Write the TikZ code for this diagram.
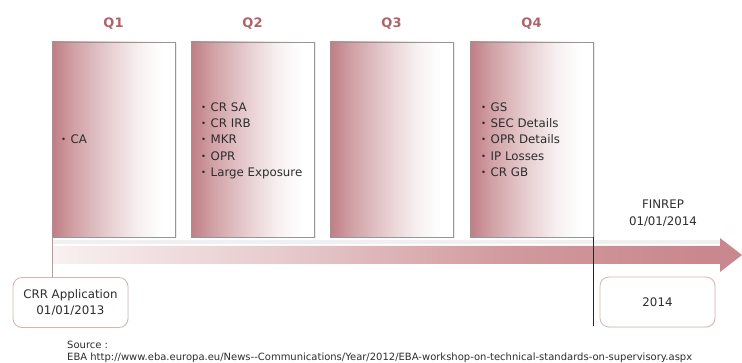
\documentclass[tikz,border=0pt]{standalone}
\usepackage{fontspec}
\setmainfont{DejaVu Sans}
\usetikzlibrary{shadows}
\definecolor{qrose}{RGB}{192,125,132}
\definecolor{qlabel}{RGB}{176,98,104}
\definecolor{arrowrose}{RGB}{201,136,141}
\definecolor{boxedge}{RGB}{150,150,150}
\definecolor{calloutedge}{RGB}{215,180,178}
\definecolor{txt}{RGB}{45,45,45}
\pgfdeclarehorizontalshading{qboxshade}{100bp}{color(0bp)=(qrose); color(25bp)=(qrose); color(34bp)=(qrose!72!white); color(48bp)=(qrose!38!white); color(60bp)=(qrose!12!white); color(70bp)=(white); color(100bp)=(white)}
\pgfdeclarehorizontalshading{arrowshade}{100bp}{color(0bp)=(arrowrose!12!white); color(25bp)=(arrowrose!12!white); color(42bp)=(arrowrose!45!white); color(58bp)=(arrowrose!85!white); color(72bp)=(arrowrose); color(100bp)=(arrowrose)}
\newcommand\bul{{\fontsize{8.5}{8}\selectfont\raisebox{0.2ex}{•}}\hspace{4.5pt}}
\tikzset{
  qbox/.style={rectangle, draw=boxedge, line width=0.6pt, shade, shading=qboxshade,
    minimum width=123pt, minimum height=195pt, inner sep=0pt, outer sep=0pt, anchor=north west,
    drop shadow={shadow xshift=1.5pt, shadow yshift=-1.5pt, opacity=0.15}},
  qlab/.style={font=\fontsize{13}{15}\selectfont\bfseries, text=qlabel},
  items/.style={font=\fontsize{11.8}{16.2}\selectfont, text=txt, align=left, anchor=north west, inner sep=0pt},
  callout/.style={rectangle, rounded corners=9pt, draw=calloutedge, line width=0.8pt, fill=white,
    minimum width=115pt, minimum height=50pt, inner sep=0pt, align=center,
    font=\fontsize{11.8}{16}\selectfont, text=txt,
    drop shadow={shadow xshift=1pt, shadow yshift=-1pt, opacity=0.08}},
  plain/.style={font=\fontsize{11.8}{17}\selectfont, text=txt, align=center, inner sep=0pt},
  leftline/.style={draw=calloutedge!85!black, line width=0.7pt},
  markline/.style={draw=black!85, line width=1pt}
}
\begin{document}
\begin{tikzpicture}[x=1pt, y=-1pt]
\useasboundingbox (0,0) rectangle (742,363);
% quarter boxes
\node[qbox] (q1) at (52,42) {};
\node[qbox] (q2) at (191,42) {};
\node[qbox] (q3) at (330,42) {};
\node[qbox] (q4) at (470,42) {};
% quarter labels
\node[qlab] (l1) at ([yshift=18pt]q1.north) {Q1};
\node[qlab] (l2) at ([yshift=18pt]q2.north) {Q2};
\node[qlab] (l3) at ([yshift=18pt]q3.north) {Q3};
\node[qlab] (l4) at ([yshift=18pt]q4.north) {Q4};
% items
\node[items] (t1) at (61,134.5) {\bul CA};
\node[items] (t2) at (201,102.5) {\bul CR SA\\\bul CR IRB\\\bul MKR\\\bul OPR\\\bul Large Exposure};
\node[items] (t4) at (481,102.5) {\bul GS\\\bul SEC Details\\\bul OPR Details\\\bul IP Losses\\\bul CR GB};
% reflection band
\fill[black!6] (52,240) rectangle (720,244);
% timeline arrow
\path[shade, shading=arrowshade] (52,246) -- (720,246) -- (720,238) -- (742,255) -- (720,272) -- (720,264) -- (52,264) -- cycle;
% callouts
\node[callout] (crr) at (70.5,302.5) {CRR Application\\01/01/2013};
\node[callout] (y14) at (657.5,302) {2014};
\node[plain] (fin) at (663,213.5) {FINREP\\01/01/2014};
% connectors
\draw[leftline] (q1.south west) -- (q1.south west |- crr.north);
\coordinate (mark) at (593,326);
\draw[markline] (q4.south east) -- (q4.south east |- mark);
% source
\node[anchor=north west, inner sep=0pt, align=left, font=\fontsize{10}{12}\selectfont, text=txt] (src) at (67,341)
  {Source :\\EBA http://www.eba.europa.eu/News-{}-Communications/Year/2012/EBA-workshop-on-technical-standards-on-supervisory.aspx};
\end{tikzpicture}
\end{document}
